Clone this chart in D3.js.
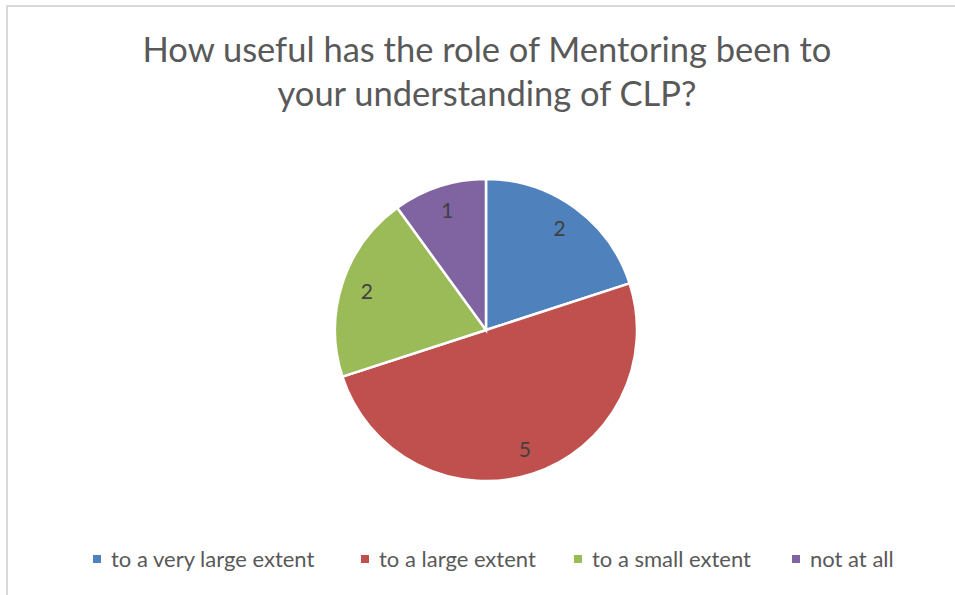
<!DOCTYPE html>
<html><head><meta charset="utf-8">
<script src="https://cdn.jsdelivr.net/npm/d3@7/dist/d3.min.js"></script>
<style>body{margin:0;background:#fff}svg{display:block}</style>
</head><body><svg id="c" width="955" height="595"></svg>
<script>
const categories = ["to a very large extent","to a large extent","to a small extent","not at all"];
const values = [2,5,2,1];
const colors = ["#4f81bd","#c0504d","#9bbb59","#8064a2"];
const titleLines = ["How useful has the role of Mentoring been to","your understanding of CLP?"];

const svg = d3.select("#c");
svg.append("rect").attr("x",7).attr("y",6).attr("width",960).attr("height",600)
  .attr("fill","#fff").attr("stroke","#d9d9d9").attr("stroke-width",2);

const font = "Lato, 'Open Sans', sans-serif";
svg.append("g").selectAll("text").data(titleLines).join("text")
  .attr("x",487).attr("y",(d,i)=>62+i*44).attr("text-anchor","middle")
  .attr("font-family",font).attr("font-size",34.5).attr("fill","#595959").text(d=>d);

const cx=486, cy=330, r=151;
const pie = d3.pie().sort(null).value(d=>d)(values);
const arc = d3.arc().innerRadius(0).outerRadius(r);
const labelArc = d3.arc().innerRadius(r*0.83).outerRadius(r*0.83);
const g = svg.append("g").attr("transform",`translate(${cx},${cy})`);
g.selectAll("path").data(pie).join("path").attr("d",arc)
  .attr("fill",(d,i)=>colors[i]).attr("stroke","#fff").attr("stroke-width",2.5);
g.selectAll("text").data(pie).join("text")
  .attr("transform",d=>`translate(${labelArc.centroid(d)})`)
  .attr("text-anchor","middle").attr("dy","0.35em")
  .attr("font-family",font).attr("font-size",21).attr("fill","#404040")
  .text(d=>d.data);

const legX=[93,361,574,792];
const lg = svg.append("g");
categories.forEach((c,i)=>{
  lg.append("rect").attr("x",legX[i]).attr("y",555).attr("width",8).attr("height",8).attr("fill",colors[i]);
  lg.append("text").attr("x",legX[i]+18).attr("y",567).attr("font-family",font)
    .attr("font-size",22).attr("fill","#595959").text(c);
});
</script></body></html>
